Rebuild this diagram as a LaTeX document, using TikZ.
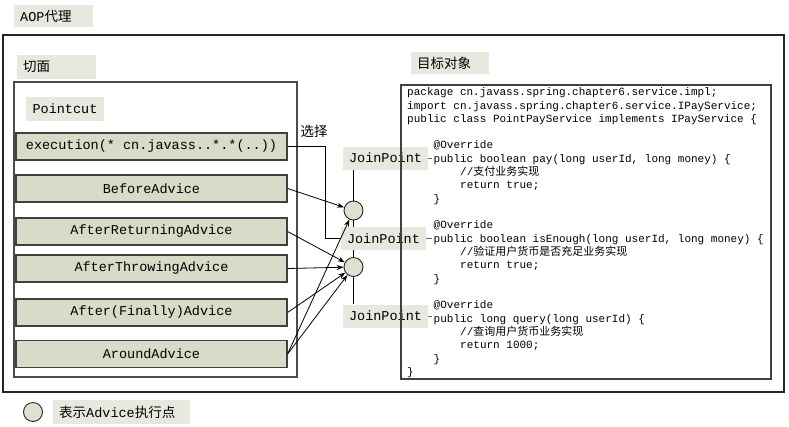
\documentclass[tikz,border=0pt]{standalone}
\usepackage{fontspec}
\usepackage{xcolor}
\usetikzlibrary{arrows.meta, positioning}
\newfontfamily\mono{Liberation Mono}
\newfontfamily\cjk{Noto Sans CJK SC}
\definecolor{lblGray}{RGB}{232,232,222}
\definecolor{advOlive}{RGB}{218,218,200}
\definecolor{jpFill}{RGB}{224,224,208}
\newcommand{\ind}{\hspace*{26.5pt}}
\tikzset{
  lbl/.style={fill=lblGray, inner sep=0pt, font=\fontsize{13.5}{16}\selectfont},
  tag/.style={lbl, anchor=west, inner xsep=6pt, align=left, text width=#1},
  advice/.style={draw=black!75, line width=1.2pt, fill=advOlive, minimum width=271pt,
    minimum height=27pt, inner sep=0pt, font=\fontsize{13.5}{16}\selectfont\mono},
  jpoint/.style={circle, draw=black!85, line width=0.9pt, fill=jpFill, minimum size=19pt, inner sep=0pt},
  jplbl/.style={lbl, minimum width=85pt, minimum height=23pt, font=\fontsize{13.5}{16}\selectfont\mono},
  adv/.style={-{Stealth[length=7pt,width=5pt]}, line width=0.8pt},
}

\begin{document}
\begin{tikzpicture}[x=1pt, y=-1pt]
  \useasboundingbox (0,0) rectangle (789,426);
  % frames
  \node[tag=67pt, minimum height=22pt] (aop) at (14,16) {{\mono AOP}{\cjk 代理}};
  \draw[line width=1.2pt, black!85] (3,35) rectangle (784,392);
  \node[tag=67pt, minimum height=24pt, font=\fontsize{13.5}{16}\selectfont\cjk] (aspect) at (17,67) {切面};
  \draw[line width=1.2pt, black!70] (14,82) rectangle (297,377);
  \node[lbl, minimum width=78pt, minimum height=24pt, font=\fontsize{13.5}{16}\selectfont\mono] (pc) at (65,109) {Pointcut};

  % advice boxes
  \node[advice] (exec)   at (151.5,146.5) {execution(* cn.javass..*.*(..))};
  \node[advice] (before) at (151.5,188.5) {BeforeAdvice};
  \node[advice] (afret)  at (151.5,231.5) {AfterReturningAdvice};
  \node[advice] (afthr)  at (151.5,268.5) {AfterThrowingAdvice};
  \node[advice] (affin)  at (151.5,312.5) {After(Finally)Advice};
  \node[advice] (around) at (151.5,354)   {AroundAdvice};

  % join points
  \node[jpoint] (c1) at (353.5,210.5) {};
  \node[jpoint] (c2) at (353.5,267) {};
  \node[jplbl] (jp1) at (385.5,158) {JoinPoint};
  \node[jplbl] (jp2) at (383.5,238.5) {JoinPoint};
  \node[jplbl] (jp3) at (385.5,316) {JoinPoint};
  \draw[line width=0.8pt] (c1.north) -- (c1 |- jp1.south);
  \draw[line width=0.8pt] (c1.south) -- (c1 |- jp2.north);
  \draw[line width=0.8pt] (c2.north) -- (c2 |- jp2.south);
  \draw[line width=0.8pt] (c2.south) -- (c2 |- jp3.north);

  % pointcut selects
  \node[font=\fontsize{13.5}{16}\selectfont\cjk] (sel) at (314,131) {选择};
  \coordinate (bend) at (325,238.5);
  \draw[line width=0.8pt] (exec.east) -| (bend) -- (jp2.west);

  % advices
  \draw[adv] (before.east) -- (c1);
  \draw[adv] (afret.east) -- (c2);
  \draw[adv] (afthr.east) -- (c2);
  \draw[adv] (affin.east) -- (c2);
  \draw[adv] (around.east) -- (c1);
  \draw[adv] (around.east) -- (c2);

  % target
  \node[tag=66pt, minimum height=22pt, font=\fontsize{13.5}{16}\selectfont\cjk] (tgt) at (411,63) {目标对象};
  \draw[line width=1.2pt, black!75] (401,85) rectangle (771,379);
  \node[anchor=north west, inner sep=0pt, align=left, font=\fontsize{11}{13.33}\selectfont\mono] (code) at (407,87.5) {%
    package cn.javass.spring.chapter6.service.impl;\\
    import cn.javass.spring.chapter6.service.IPayService;\\
    public class PointPayService implements IPayService \{\\[13.33pt]
    \ind @Override\\
    \ind public boolean pay(long userId, long money) \{\\
    \ind\ind //{\cjk 支付业务实现}\\
    \ind\ind return true;\\
    \ind \}\\[13.33pt]
    \ind @Override\\
    \ind public boolean isEnough(long userId, long money) \{\\
    \ind\ind //{\cjk 验证用户货币是否充足业务实现}\\
    \ind\ind return true;\\
    \ind \}\\[13.33pt]
    \ind @Override\\
    \ind public long query(long userId) \{\\
    \ind\ind //{\cjk 查询用户货币业务实现}\\
    \ind\ind return 1000;\\
    \ind \}\\
    \}};
  \coordinate (m1) at (432,158);
  \coordinate (m2) at (432,238.5);
  \coordinate (m3) at (432,316);
  \draw[line width=0.6pt, black!60] (jp1.east) -- (m1);
  \draw[line width=0.6pt, black!60] (jp2.east) -- (m2);
  \draw[line width=0.6pt, black!60] (jp3.east) -- (m3);

  % legend
  \node[jpoint] (key) at (33,412) {};
  \node[tag=125pt, minimum height=24pt, font=\fontsize{13.5}{16}\selectfont\cjk] (keylbl) at (53,412) {表示{\mono Advice}执行点};
\end{tikzpicture}
\end{document}
